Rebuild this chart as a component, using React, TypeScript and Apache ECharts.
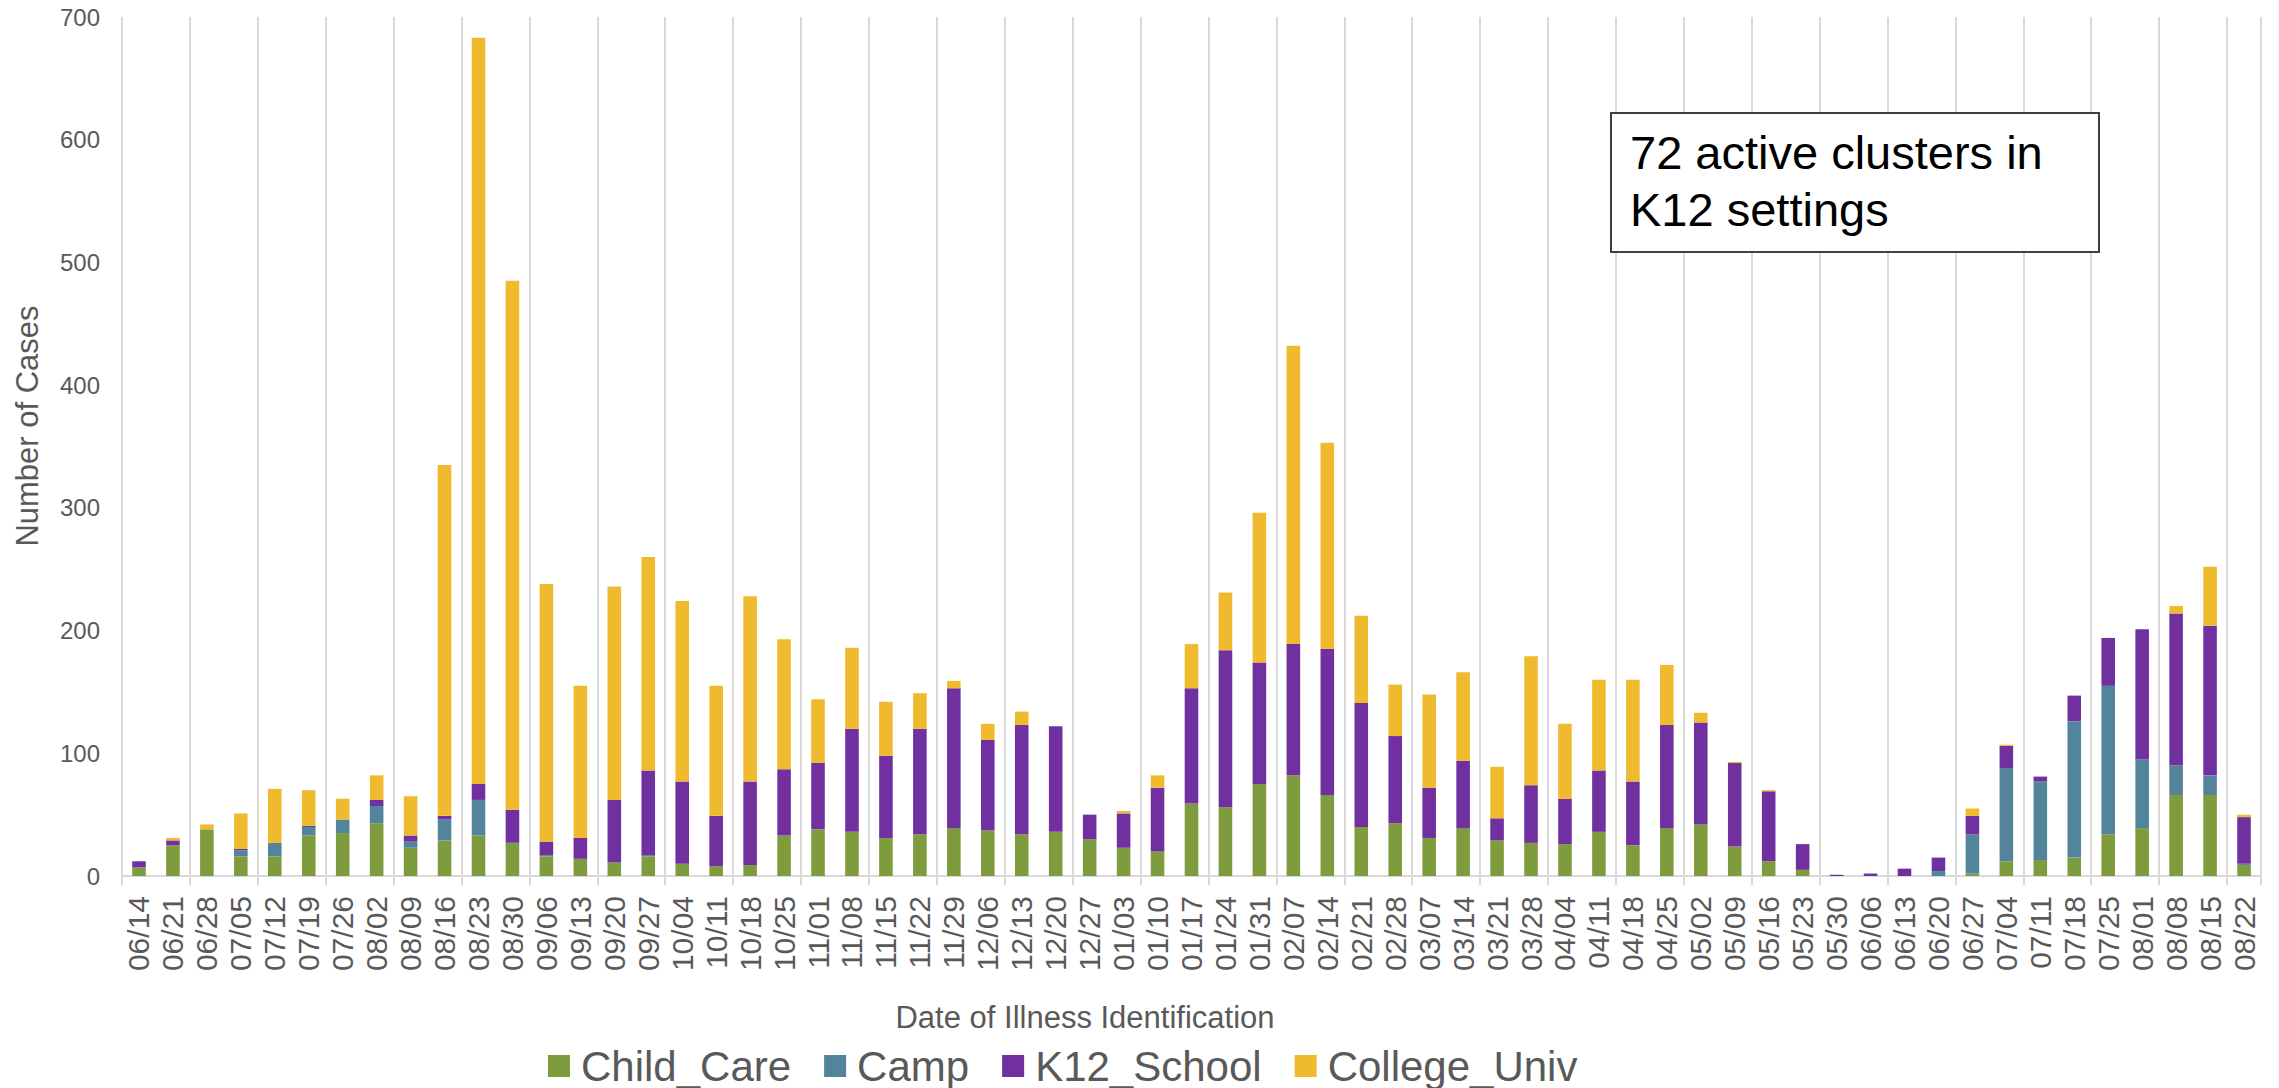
import React, { useEffect, useRef } from "react";
import * as echarts from "echarts";

const categories = [
  "06/14","06/21","06/28","07/05","07/12","07/19","07/26","08/02","08/09","08/16",
  "08/23","08/30","09/06","09/13","09/20","09/27","10/04","10/11","10/18","10/25",
  "11/01","11/08","11/15","11/22","11/29","12/06","12/13","12/20","12/27","01/03",
  "01/10","01/17","01/24","01/31","02/07","02/14","02/21","02/28","03/07","03/14",
  "03/21","03/28","04/04","04/11","04/18","04/25","05/02","05/09","05/16","05/23",
  "05/30","06/06","06/13","06/20","06/27","07/04","07/11","07/18","07/25","08/01",
  "08/08","08/15","08/22",
];

const childCare = [
  7, 25, 38, 16, 16, 33, 35, 43, 23, 29,
  33, 27, 16, 14, 11, 16, 10, 8, 9, 33,
  38, 36, 31, 34, 39, 37, 34, 36, 30, 23,
  20, 59, 56, 75, 82, 66, 40, 43, 31, 39,
  29, 27, 26, 36, 25, 39, 42, 24, 12, 5,
  0, 0, 0, 0, 2, 12, 13, 15, 34, 39,
  66, 66, 9,
];

const camp = [
  0, 0, 0, 5, 11, 7, 11, 14, 5, 17,
  29, 0, 1, 0, 0, 1, 0, 0, 0, 0,
  0, 0, 0, 0, 0, 0, 0, 0, 0, 0,
  0, 0, 0, 0, 0, 0, 0, 0, 0, 0,
  0, 0, 0, 0, 0, 0, 0, 0, 0, 0,
  0, 0, 0, 4, 32, 76, 64, 111, 121, 56,
  24, 16, 1,
];

const k12School = [
  5, 4, 0, 1, 0, 1, 0, 5, 5, 3,
  13, 27, 11, 17, 51, 69, 67, 41, 68, 54,
  54, 84, 67, 86, 114, 74, 89, 86, 20, 28,
  52, 94, 128, 99, 107, 119, 101, 71, 41, 55,
  18, 47, 37, 50, 52, 84, 83, 68, 57, 21,
  1, 2, 6, 11, 15, 18, 4, 21, 39, 106,
  124, 122, 38,
];

const collegeUniv = [
  0, 2, 4, 29, 44, 29, 17, 20, 32, 286,
  608, 431, 210, 124, 174, 174, 147, 106, 151, 106,
  52, 66, 44, 29, 6, 13, 11, 0, 0, 2,
  10, 36, 47, 122, 243, 168, 71, 42, 76, 72,
  42, 105, 61, 74, 83, 49, 8, 1, 1, 0,
  0, 0, 0, 0, 6, 1, 0, 0, 0, 0,
  6, 48, 2,
];

const seriesNames = ["Child_Care", "Camp", "K12_School", "College_Univ"];
const seriesColors = ["#7E9C3E", "#52849B", "#7030A0", "#F0BA2F"];
const seriesData = [childCare, camp, k12School, collegeUniv];

const FONT = '"Liberation Sans", Arial, sans-serif';

export default function App() {
  const ref = useRef<HTMLDivElement>(null);

  useEffect(() => {
    if (!ref.current) return;
    const chart = echarts.init(ref.current, null, { renderer: "svg" });
    const option = {
      animation: false,
      backgroundColor: "#ffffff",
      textStyle: { fontFamily: FONT },
      grid: { left: 122, right: 18, top: 17, bottom: 212, containLabel: false },
      legend: {
        data: seriesNames,
        left: 543,
        top: 1040,
        icon: "rect",
        itemWidth: 22,
        itemHeight: 22,
        itemGap: 33,
        textStyle: { fontSize: 42, color: "#595959", fontFamily: FONT, padding: [0, 0, 0, 6] },
      },
      xAxis: {
        type: "category",
        data: categories,
        boundaryGap: true,
        axisLine: { lineStyle: { color: "#d9d9d9", width: 2 } },
        axisTick: { show: true, interval: 1, length: 9, lineStyle: { color: "#d9d9d9", width: 2 } },
        splitLine: { show: true, interval: 1, lineStyle: { color: "#d9d9d9", width: 2 } },
        axisLabel: { interval: 0, rotate: 90, fontSize: 30, color: "#595959", margin: 20, fontFamily: FONT },
      },
      yAxis: {
        type: "value",
        min: 0,
        max: 700,
        interval: 100,
        axisLine: { show: false },
        axisTick: { show: false },
        splitLine: { show: false },
        axisLabel: { fontSize: 24, color: "#595959", margin: 22, fontFamily: FONT },
      },
      series: seriesNames.map((name, i) => ({
        name,
        type: "bar",
        stack: "total",
        barWidth: "40%",
        data: seriesData[i],
        itemStyle: { color: seriesColors[i] },
      })),
      graphic: [
        {
          type: "text",
          x: 27,
          y: 426,
          rotation: Math.PI / 2,
          style: {
            text: "Number of Cases",
            fontSize: 31,
            fontFamily: FONT,
            fill: "#595959",
            align: "center",
            verticalAlign: "middle",
          },
        },
        {
          type: "text",
          x: 1085,
          y: 1017,
          style: {
            text: "Date of Illness Identification",
            fontSize: 31,
            fontFamily: FONT,
            fill: "#595959",
            align: "center",
            verticalAlign: "middle",
          },
        },
        {
          type: "rect",
          z: 100,
          shape: { x: 1611, y: 113, width: 488, height: 139 },
          style: { fill: "#ffffff", stroke: "#404040", lineWidth: 2 },
        },
        {
          type: "text",
          z: 101,
          x: 1630,
          y: 152,
          style: {
            text: "72 active clusters in",
            fontSize: 47,
            fontFamily: FONT,
            fill: "#000000",
            align: "left",
            verticalAlign: "middle",
          },
        },
        {
          type: "text",
          z: 101,
          x: 1630,
          y: 209,
          style: {
            text: "K12 settings",
            fontSize: 47,
            fontFamily: FONT,
            fill: "#000000",
            align: "left",
            verticalAlign: "middle",
          },
        },
      ],
    };
    chart.setOption(option);
    return () => {
      chart.dispose();
    };
  }, []);

  return (
    <div
      ref={ref}
      style={{ position: "fixed", left: 0, top: 0, width: 2279, height: 1088, background: "#fff" }}
    />
  );
}
